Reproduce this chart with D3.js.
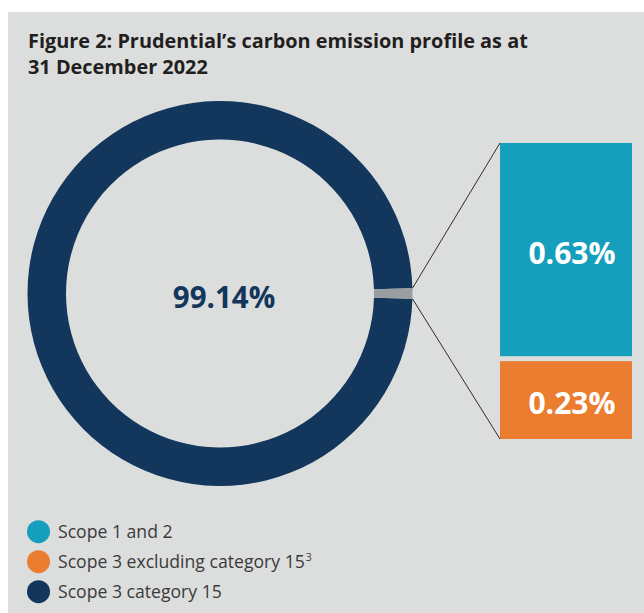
<!DOCTYPE html>
<html>
<head>
<meta charset="utf-8">
<script src="https://cdn.jsdelivr.net/npm/d3@7"></script>
<style>
  html, body { margin: 0; padding: 0; background: #ffffff; }
  svg { display: block; }
</style>
</head>
<body>
<svg id="chart" width="644" height="613"></svg>
<script>
// ---------------- data ----------------
const titleLines = ["Figure 2: Prudential\u2019s carbon emission profile as at", "31 December 2022"];
const donutCategories = ["Scope 3 category 15", "Scope 1, 2 and 3 excluding category 15"];
const donutValues = [99.14, 0.86];
const donutLabel = "99.14%";
const barCategories = ["Scope 1 and 2", "Scope 3 excluding category 15"];
const barValues = [0.63, 0.23];
const barLabels = ["0.63%", "0.23%"];
const legendLabels = ["Scope 1 and 2", "Scope 3 excluding category 15", "Scope 3 category 15"];
const legendSup = ["", "3", ""];

// ---------------- styles ----------------
const colNavy = "#12365c";
const colTeal = "#169fbc";
const colOrange = "#eb7d30";
const colGrey = "#9b9ea1";
const colBg = "#dcdedd";
const barColors = [colTeal, colOrange];
const legendColors = [colTeal, colOrange, colNavy];

const svg = d3.select("#chart");

// background panel
svg.append("rect").attr("x", 8).attr("y", 12).attr("width", 636).attr("height", 601).attr("fill", colBg);

// title
const title = svg.append("text")
  .attr("x", 28).attr("y", 48)
  .attr("font-family", "'Open Sans', sans-serif")
  .attr("font-weight", 700)
  .attr("font-size", 20)
  .attr("fill", "#231f20");
titleLines.forEach((t, i) => {
  title.append("tspan").attr("x", 28).attr("y", 48 + i * 26).text(t);
});
// fit first line width to ~500px
{
  const len = title.select("tspan").node().getComputedTextLength();
  const fs = 20 * 500 / len;
  title.attr("font-size", fs);
}

// ---------------- donut ----------------
const cx = 220, cy = 293.5, rOuter = 192.5, rInner = 154;
const share = donutValues[1] / d3.sum(donutValues);
const startA = Math.PI / 2 - 2 * Math.PI * (1 - share / 2);
const pie = d3.pie().sort(null).value(d => d).startAngle(startA).endAngle(startA + 2 * Math.PI);
const arcs = pie(donutValues);
const arc = d3.arc().innerRadius(rInner).outerRadius(rOuter);
const g = svg.append("g").attr("transform", `translate(${cx},${cy})`);
g.selectAll("path").data(arcs).join("path")
  .attr("d", arc)
  .attr("fill", (d, i) => i === 0 ? colNavy : colGrey);

g.append("text")
  .attr("x", 4).attr("y", 14.5)
  .attr("text-anchor", "middle")
  .attr("font-family", "'Open Sans', sans-serif")
  .attr("font-weight", 700)
  .attr("font-size", 29.5)
  .attr("fill", colNavy)
  .text(donutLabel);

// ---------------- bars ----------------
const barX = 500, barW = 132, barTop = 143, gap = 5;
const hScale = d3.scaleLinear().domain([0, d3.sum(barValues)]).range([0, 291]);
let yAcc = barTop;
const bars = barValues.map((v, i) => {
  const h = hScale(v);
  const b = { y: yAcc, h };
  yAcc += h + gap;
  return b;
});
svg.selectAll("rect.bar").data(bars).join("rect")
  .attr("class", "bar")
  .attr("x", barX).attr("y", d => d.y)
  .attr("width", barW).attr("height", d => d.h)
  .attr("fill", (d, i) => barColors[i]);
svg.selectAll("text.barlabel").data(bars).join("text")
  .attr("class", "barlabel")
  .attr("x", barX + barW / 2 + 6)
  .attr("y", d => d.y + d.h / 2 + 14)
  .attr("text-anchor", "middle")
  .attr("font-family", "'Open Sans', sans-serif")
  .attr("font-weight", 700)
  .attr("font-size", 30)
  .attr("fill", "#ffffff")
  .text((d, i) => barLabels[i]);

// connector lines from grey slice edges to bar corners
const greyArc = arcs[1];
const pt = (a) => [cx + rOuter * Math.sin(a), cy - rOuter * Math.cos(a)];
const p1 = pt(greyArc.startAngle), p2 = pt(greyArc.endAngle);
const cornerTop = [barX, bars[0].y];
const lastBar = bars[bars.length - 1];
const cornerBot = [barX, lastBar.y + lastBar.h];
svg.append("line").attr("x1", p1[0]).attr("y1", p1[1]).attr("x2", cornerTop[0]).attr("y2", cornerTop[1])
  .attr("stroke", "#2b2b2b").attr("stroke-width", 1);
svg.append("line").attr("x1", p2[0]).attr("y1", p2[1]).attr("x2", cornerBot[0]).attr("y2", cornerBot[1])
  .attr("stroke", "#2b2b2b").attr("stroke-width", 1);

// ---------------- legend ----------------
const lg = svg.append("g");
const legendTexts = [];
legendLabels.forEach((lab, i) => {
  const y = 531.7 + i * 30;
  lg.append("circle").attr("cx", 38.5).attr("cy", y).attr("r", 11.5).attr("fill", legendColors[i]);
  const t = lg.append("text")
    .attr("x", 58).attr("y", y + 6.5)
    .attr("font-family", "'Open Sans', sans-serif")
    .attr("font-size", 18)
    .attr("fill", "#3a3a3a")
    .text(lab);
  legendTexts.push(t);
});
// fit legend font so "Scope 3 category 15" spans ~164px
{
  const len = legendTexts[2].node().getComputedTextLength();
  const fs = 18 * 164 / len;
  legendTexts.forEach(t => t.attr("font-size", fs));
}
legendTexts.forEach((t, i) => {
  if (legendSup[i]) {
    t.append("tspan").attr("dx", 1).attr("dy", -7).attr("font-size", 10.5).text(legendSup[i]);
  }
});
</script>
</body>
</html>
